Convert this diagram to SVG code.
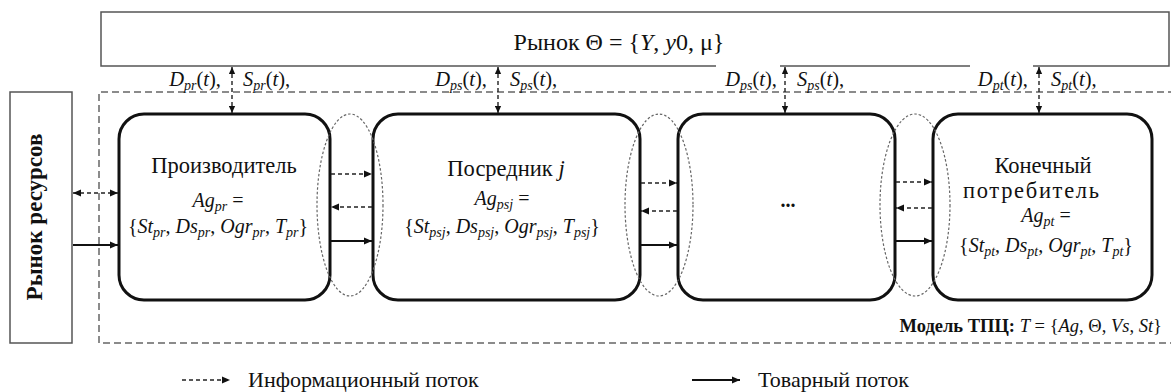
<svg xmlns="http://www.w3.org/2000/svg" width="1171" height="392" viewBox="0 0 1171 392" font-family="'Liberation Serif', 'DejaVu Serif', serif">
  <defs>
    <marker id="ah" viewBox="0 0 10 10" refX="10" refY="5" markerWidth="9" markerHeight="8" markerUnits="userSpaceOnUse" orient="auto-start-reverse">
      <path d="M0,0.5 L10,5 L0,9.5 z" fill="#111"/>
    </marker>
    <marker id="ahs" viewBox="0 0 10 10" refX="10" refY="5" markerWidth="7" markerHeight="7" markerUnits="userSpaceOnUse" orient="auto-start-reverse">
      <path d="M0,0.5 L10,5 L0,9.5 z" fill="#111"/>
    </marker>
  </defs>
  <style>
    text { fill: #111; }
    .box { fill: #fff; stroke: #555; stroke-width: 1.5; }
    .agent { fill: none; stroke: #111; stroke-width: 3; }
    .frame { fill: none; stroke: #666; stroke-width: 1.5; stroke-dasharray: 7 4; }
    .link { fill: none; stroke: #666; stroke-width: 1.2; stroke-dasharray: 2.5 2; }
    .info { fill: none; stroke: #222; stroke-width: 1.4; stroke-dasharray: 4 3; }
    .goods { fill: none; stroke: #111; stroke-width: 2.2; }
    .title { font-size: 22.5px; }
    .f { font-size: 20px; }
    .lbl { font-size: 20.5px; font-style: italic; }
    .it { font-style: italic; }
    .up { font-style: normal; }
    .sub { font-size: 14px; font-style: italic; }
  </style>

  <rect width="1171" height="392" fill="#fff"/>

  <!-- dashed model boundary -->
  <path class="frame" d="M1175,92 H99 V343 H1175"/>

  <!-- market -->
  <g id="market">
    <rect class="box" x="101" y="12" width="1068" height="54"/>
    <text x="619" y="50" font-size="24" text-anchor="middle">Рынок Θ = {<tspan class="it">Y</tspan>, <tspan class="it">y</tspan>0, μ}</text>
  </g>

  <!-- resource market -->
  <g id="resources">
    <rect class="box" x="10" y="92" width="62" height="251"/>
    <text transform="translate(42,217) rotate(-90)" font-size="23" font-weight="bold" text-anchor="middle">Рынок ресурсов</text>
  </g>

  <!-- agent chain -->
  <g id="producer">
    <rect class="agent" x="119" y="114" width="211" height="186" rx="25"/>
    <text class="title" x="224" y="173" text-anchor="middle">Производитель</text>
    <text class="f it" x="218" y="207" text-anchor="middle">Ag<tspan class="sub" dy="4">pr</tspan><tspan class="up" dy="-4"> =</tspan></text>
    <text class="f" x="218" y="233" text-anchor="middle">{<tspan class="it">St</tspan><tspan class="sub" dy="4">pr</tspan><tspan dy="-4">, </tspan><tspan class="it">Ds</tspan><tspan class="sub" dy="4">pr</tspan><tspan dy="-4">, </tspan><tspan class="it">Ogr</tspan><tspan class="sub" dy="4">pr</tspan><tspan dy="-4">, </tspan><tspan class="it">T</tspan><tspan class="sub" dy="4">pr</tspan><tspan dy="-4">}</tspan></text>
  </g>

  <g id="intermediary">
    <rect class="agent" x="373" y="114" width="267" height="186" rx="25"/>
    <text class="title" x="506" y="176" text-anchor="middle">Посредник <tspan class="it">j</tspan></text>
    <text class="f it" x="502" y="205" text-anchor="middle">Ag<tspan class="sub" dy="4">psj</tspan><tspan class="up" dy="-4"> =</tspan></text>
    <text class="f" x="502" y="233" text-anchor="middle">{<tspan class="it">St</tspan><tspan class="sub" dy="4">psj</tspan><tspan dy="-4">, </tspan><tspan class="it">Ds</tspan><tspan class="sub" dy="4">psj</tspan><tspan dy="-4">, </tspan><tspan class="it">Ogr</tspan><tspan class="sub" dy="4">psj</tspan><tspan dy="-4">, </tspan><tspan class="it">T</tspan><tspan class="sub" dy="4">psj</tspan><tspan dy="-4">}</tspan></text>
  </g>

  <g id="others">
    <rect class="agent" x="678" y="114" width="217" height="186" rx="25"/>
    <text x="788" y="207" font-size="20" font-weight="bold" text-anchor="middle">...</text>
  </g>

  <g id="consumer">
    <rect class="agent" x="933" y="114" width="219" height="186" rx="25"/>
    <text class="title" x="1043" y="173" text-anchor="middle">Конечный</text>
    <text class="title" x="1031" y="198" text-anchor="middle" textLength="136" lengthAdjust="spacing">потребитель</text>
    <text class="f it" x="1046" y="222" text-anchor="middle">Ag<tspan class="sub" dy="4">pt</tspan><tspan class="up" dy="-4"> =</tspan></text>
    <text class="f" x="1046" y="252" text-anchor="middle">{<tspan class="it">St</tspan><tspan class="sub" dy="4">pt</tspan><tspan dy="-4">, </tspan><tspan class="it">Ds</tspan><tspan class="sub" dy="4">pt</tspan><tspan dy="-4">, </tspan><tspan class="it">Ogr</tspan><tspan class="sub" dy="4">pt</tspan><tspan dy="-4">, </tspan><tspan class="it">T</tspan><tspan class="sub" dy="4">pt</tspan><tspan dy="-4">}</tspan></text>
  </g>

  <!-- interaction zones between neighbouring agents -->
  <g id="zones">
    <ellipse class="link" cx="350" cy="205" rx="33" ry="91"/>
    <ellipse class="link" cx="659" cy="205" rx="34" ry="91"/>
    <ellipse class="link" cx="915" cy="205" rx="35" ry="91"/>
  </g>

  <!-- flows -->
  <g id="connectors">
    <!-- market exchange -->
    <path class="info" d="M232,67 V113" marker-start="url(#ahs)" marker-end="url(#ahs)"/>
    <path class="info" d="M498,67 V113" marker-start="url(#ahs)" marker-end="url(#ahs)"/>
    <path class="info" d="M785,67 V113" marker-start="url(#ahs)" marker-end="url(#ahs)"/>
    <path class="info" d="M1039,67 V113" marker-start="url(#ahs)" marker-end="url(#ahs)"/>
    <!-- resources -> producer -->
    <path class="info" d="M73,193 H118" marker-start="url(#ah)" marker-end="url(#ah)"/>
    <path class="goods" d="M73,245 H118" marker-end="url(#ah)"/>
    <!-- producer <-> intermediary -->
    <path class="info" d="M331,174 H372" marker-end="url(#ah)"/>
    <path class="info" d="M372,207 H331" marker-end="url(#ah)"/>
    <path class="goods" d="M331,241 H372" marker-end="url(#ah)"/>
    <!-- intermediary <-> others -->
    <path class="info" d="M641,183 H677" marker-end="url(#ah)"/>
    <path class="info" d="M677,211 H641" marker-end="url(#ah)"/>
    <path class="goods" d="M641,245 H677" marker-end="url(#ah)"/>
    <!-- others <-> consumer -->
    <path class="info" d="M896,182 H932" marker-end="url(#ah)"/>
    <path class="info" d="M932,208 H896" marker-end="url(#ah)"/>
    <path class="goods" d="M896,241 H932" marker-end="url(#ah)"/>
  </g>

  <!-- demand / supply labels -->
  <g id="labels">
    <rect x="716" y="64" width="64" height="5" fill="#fff"/>
    <rect x="970" y="64" width="63" height="5" fill="#fff"/>
    <text class="lbl" x="221" y="86" text-anchor="end">D<tspan class="sub" dy="4">pr</tspan><tspan class="up" dy="-4">(</tspan>t<tspan class="up">),</tspan></text>
    <text class="lbl" x="243" y="86">S<tspan class="sub" dy="4">pr</tspan><tspan class="up" dy="-4">(</tspan>t<tspan class="up">),</tspan></text>
    <text class="lbl" x="487" y="86" text-anchor="end">D<tspan class="sub" dy="4">ps</tspan><tspan class="up" dy="-4">(</tspan>t<tspan class="up">),</tspan></text>
    <text class="lbl" x="510" y="86">S<tspan class="sub" dy="4">ps</tspan><tspan class="up" dy="-4">(</tspan>t<tspan class="up">),</tspan></text>
    <text class="lbl" x="777" y="86" text-anchor="end">D<tspan class="sub" dy="4">ps</tspan><tspan class="up" dy="-4">(</tspan>t<tspan class="up">),</tspan></text>
    <text class="lbl" x="797" y="86">S<tspan class="sub" dy="4">ps</tspan><tspan class="up" dy="-4">(</tspan>t<tspan class="up">),</tspan></text>
    <text class="lbl" x="1028" y="86" text-anchor="end">D<tspan class="sub" dy="4">pt</tspan><tspan class="up" dy="-4">(</tspan>t<tspan class="up">),</tspan></text>
    <text class="lbl" x="1051" y="86">S<tspan class="sub" dy="4">pt</tspan><tspan class="up" dy="-4">(</tspan>t<tspan class="up">),</tspan></text>
  </g>

  <text x="1162" y="332" font-size="18.5" text-anchor="end"><tspan font-weight="bold">Модель ТПЦ:</tspan> <tspan class="it">T</tspan> = {<tspan class="it">Ag</tspan>, Θ, <tspan class="it">Vs</tspan>, <tspan class="it">St</tspan>}</text>

  <!-- legend -->
  <g id="legend">
    <path class="info" d="M182,380 H230" marker-end="url(#ah)"/>
    <text x="248" y="387" font-size="22">Информационный поток</text>
    <path class="goods" d="M692,380 H740" marker-end="url(#ah)"/>
    <text x="758" y="387" font-size="22">Товарный поток</text>
  </g>
</svg>
